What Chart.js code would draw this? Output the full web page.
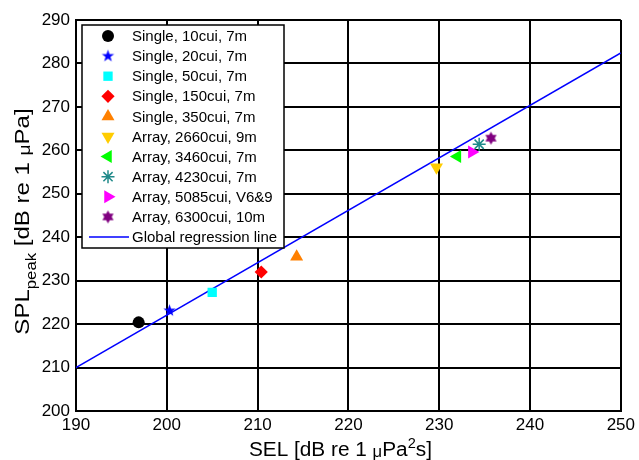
<!DOCTYPE html>
<html>
<head>
<meta charset="utf-8">
<script src="https://cdn.jsdelivr.net/npm/chart.js@4.4.1/dist/chart.umd.min.js"></script>
<style>
    html, body { margin: 0; padding: 0; background: #fff; }
</style>
</head>
<body>
<canvas id="myChart" width="639" height="460"></canvas>
<script>
const seriesLabels = [
    'Single, 10cui, 7m', 'Single, 20cui, 7m', 'Single, 50cui, 7m', 'Single, 150cui, 7m', 'Single, 350cui, 7m',
    'Array, 2660cui, 9m', 'Array, 3460cui, 7m', 'Array, 4230cui, 7m', 'Array, 5085cui, V6&9', 'Array, 6300cui, 10m'
]
const selValues = [196.9, 200.3, 205.0, 210.4, 214.3, 229.7, 232.0, 234.4, 233.6, 235.7]
const splValues = [220.4, 223.1, 227.3, 232.0, 235.5, 256.1, 258.6, 261.4, 259.6, 262.8]
const markerColors = ['#000000', '#0000ff', '#00ffff', '#ff0000', '#ff8000', '#ffcc00', '#00ff00', '#208a8a', '#ff00ff', '#800080']

const regressionLabel = 'Global regression line'
const regressionSel = [190, 250]
const regressionSpl = [210, 282.4]

const xTicks = [190, 200, 210, 220, 230, 240, 250]
const yTicks = [200, 210, 220, 230, 240, 250, 260, 270, 280, 290]

const FONT = '"Liberation Sans", Arial, sans-serif'

// star shaped markers (pentagram / hexagram) drawn into small canvases
function starMarker(points, outerR, innerR, color) {
    const c = document.createElement('canvas')
    const s = Math.ceil(outerR * 2 + 2)
    c.width = s; c.height = s
    const g = c.getContext('2d')
    g.fillStyle = color
    g.beginPath()
    for (let i = 0; i < points * 2; i++) {
        const r = i % 2 ? innerR : outerR
        const a = -Math.PI / 2 + i * Math.PI / points
        const px = s / 2 + r * Math.cos(a), py = s / 2 + r * Math.sin(a)
        i ? g.lineTo(px, py) : g.moveTo(px, py)
    }
    g.closePath()
    g.fill()
    return c
}

const markerStyles = [
    { style: 'circle', radius: 6, rot: 0 },
    { style: starMarker(5, 6.5, 2.6, markerColors[1]), radius: 6, rot: 0 },
    { style: 'rect', radius: 6.6, rot: 0 },
    { style: 'rectRot', radius: 6.6, rot: 0 },
    { style: 'triangle', radius: 7.5, rot: 0 },
    { style: 'triangle', radius: 7.5, rot: 180 },
    { style: 'triangle', radius: 7.5, rot: -90 },
    { style: 'star', radius: 6.5, rot: 0 },
    { style: 'triangle', radius: 7.5, rot: 90 },
    { style: starMarker(6, 6.5, 3.7, markerColors[9]), radius: 6, rot: 0 },
]

const datasets = seriesLabels.map((label, i) => ({
    label: label,
    data: [{ x: selValues[i], y: splValues[i] }],
    pointStyle: markerStyles[i].style,
    pointRadius: markerStyles[i].radius,
    pointRotation: markerStyles[i].rot,
    backgroundColor: markerColors[i],
    borderColor: markerColors[i],
    borderWidth: markerStyles[i].style === 'star' ? 1.5 : 0,
    showLine: false,
}))
datasets.push({
    label: regressionLabel,
    data: regressionSel.map((x, i) => ({ x: x, y: regressionSpl[i] })),
    showLine: true,
    borderColor: '#0000ff',
    borderWidth: 1.5,
    pointRadius: 0,
    fill: false,
})

// text with sub/superscript pieces, centred on cx; stretch widens along the text direction
function drawRich(ctx, parts, cx, baseY, stretch) {
    let total = 0
    parts.forEach(p => {
        ctx.font = p.size + 'px ' + FONT
        p.w = ctx.measureText(p.text).width
        total += p.w
    })
    ctx.save()
    ctx.translate(cx, baseY)
    ctx.scale(stretch || 1, 1)
    let x = -total / 2
    ctx.textAlign = 'left'
    ctx.textBaseline = 'alphabetic'
    parts.forEach(p => {
        ctx.font = p.size + 'px ' + FONT
        ctx.fillText(p.text, x, p.dy || 0)
        x += p.w
    })
    ctx.restore()
}

const axisTitles = {
    id: 'axisTitles',
    afterDraw(chart) {
        const ctx = chart.ctx
        const a = chart.chartArea
        ctx.save()
        ctx.fillStyle = '#000'
        drawRich(ctx, [
            { text: 'SEL [dB re 1 ', size: 20 },
            { text: 'μ', size: 16, dy: 1 },
            { text: 'Pa', size: 20 },
            { text: '2', size: 14, dy: -8 },
            { text: 's]', size: 20 },
        ], (a.left + a.right) / 2 - 8, 456, 1.04)
        ctx.translate(29, (a.top + a.bottom) / 2 + 6)
        ctx.rotate(-Math.PI / 2)
        drawRich(ctx, [
            { text: 'SPL', size: 20 },
            { text: 'peak', size: 14, dy: 7 },
            { text: ' [dB re 1 ', size: 20 },
            { text: 'μ', size: 16, dy: 1 },
            { text: 'Pa]', size: 20 },
        ], 0, 0, 1.2)
        ctx.restore()
    }
}

const boxLegend = {
    id: 'boxLegend',
    afterDatasetsDraw(chart) {
        const ctx = chart.ctx
        const a = chart.chartArea
        const left = a.left + 6, top = a.top + 5, w = 202, h = 223
        ctx.save()
        ctx.fillStyle = '#fff'
        ctx.fillRect(left, top, w, h)
        ctx.strokeStyle = '#000'
        ctx.lineWidth = 1.5
        ctx.strokeRect(left, top, w, h)
        const rowH = 20.1
        chart.data.datasets.forEach((ds, i) => {
            const y = top + 11 + i * rowH
            const mx = left + 26
            if (ds.showLine) {
                ctx.strokeStyle = ds.borderColor
                ctx.lineWidth = ds.borderWidth
                ctx.beginPath()
                ctx.moveTo(left + 7, y)
                ctx.lineTo(left + 47, y)
                ctx.stroke()
            } else {
                ctx.fillStyle = ds.backgroundColor
                ctx.strokeStyle = ds.borderColor
                ctx.lineWidth = ds.borderWidth
                Chart.helpers.drawPoint(ctx, {
                    pointStyle: ds.pointStyle,
                    rotation: ds.pointRotation,
                    radius: ds.pointRadius,
                    borderWidth: ds.borderWidth,
                }, mx, y)
            }
            ctx.fillStyle = '#000'
            ctx.font = '15px ' + FONT
            ctx.textAlign = 'left'
            ctx.textBaseline = 'middle'
            ctx.fillText(ds.label, left + 50, y + 1)
        })
        ctx.restore()
    }
}

const config = {
    type: 'scatter',
    data: { datasets: datasets },
    options: {
        responsive: false,
        animation: false,
        layout: { padding: { left: 0, right: 16, top: 20, bottom: 0 } },
        scales: {
            x: {
                type: 'linear',
                min: xTicks[0],
                max: xTicks[xTicks.length - 1],
                afterBuildTicks: (s) => { s.ticks = xTicks.map(v => ({ value: v })) },
                afterFit: (s) => { s.height = 49 },
                ticks: { color: '#000', padding: 4, font: { size: 17, family: FONT }, maxRotation: 0 },
                grid: { color: '#000', lineWidth: 2, drawTicks: false },
                border: { display: true, color: '#000', width: 2 },
            },
            y: {
                type: 'linear',
                min: yTicks[0],
                max: yTicks[yTicks.length - 1],
                afterBuildTicks: (s) => { s.ticks = yTicks.map(v => ({ value: v })) },
                afterFit: (s) => { s.width = 76 },
                ticks: { color: '#000', padding: 6, font: { size: 17, family: FONT } },
                grid: { color: '#000', lineWidth: 2, drawTicks: false },
                border: { display: true, color: '#000', width: 2 },
            }
        },
        plugins: {
            legend: { display: false },
            tooltip: { enabled: false },
        }
    },
    plugins: [boxLegend, axisTitles]
}

const ctx = document.getElementById('myChart')
new Chart(ctx, config)
</script>
</body>
</html>
